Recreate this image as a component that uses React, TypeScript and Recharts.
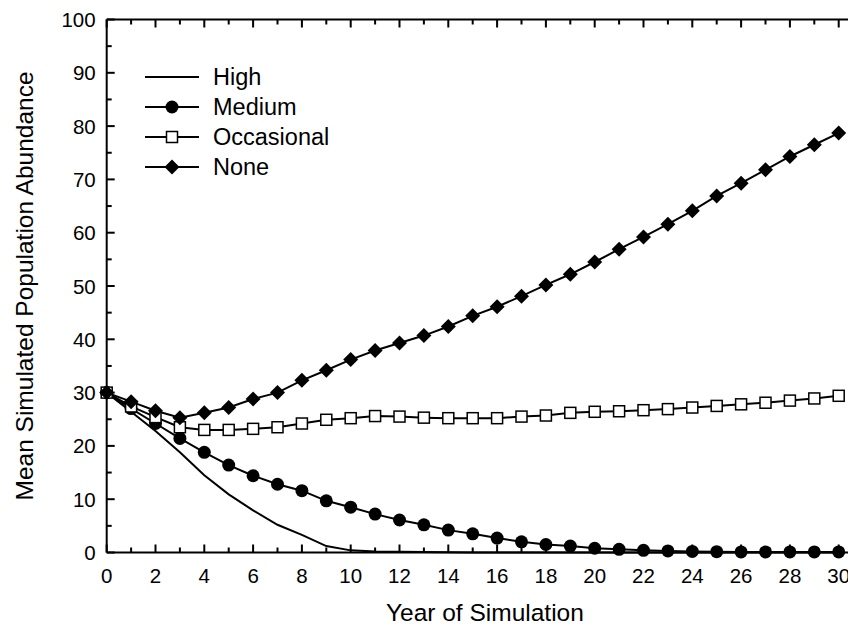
import React from 'react';
import { LineChart, Line, XAxis, YAxis, Legend } from 'recharts';

const years = [0, 1, 2, 3, 4, 5, 6, 7, 8, 9, 10, 11, 12, 13, 14, 15, 16, 17, 18, 19, 20, 21, 22, 23, 24, 25, 26, 27, 28, 29, 30];
const highValues = [30, 26.4, 22.8, 18.8, 14.5, 10.9, 7.9, 5.2, 3.3, 1.2, 0.4, 0.2, 0.12, 0.08, 0.04, 0.02, 0, 0, 0, 0, 0, 0, 0, 0, 0, 0, 0, 0, 0, 0, 0];
const mediumValues = [30, 27.0, 24.2, 21.4, 18.8, 16.4, 14.4, 12.8, 11.6, 9.7, 8.5, 7.2, 6.1, 5.2, 4.2, 3.5, 2.7, 2.0, 1.5, 1.2, 0.8, 0.6, 0.4, 0.3, 0.2, 0.15, 0.1, 0.1, 0.1, 0.1, 0.1];
const occasionalValues = [30, 27.4, 25.4, 23.5, 23.0, 23.0, 23.2, 23.5, 24.2, 24.9, 25.2, 25.6, 25.5, 25.3, 25.2, 25.2, 25.2, 25.5, 25.7, 26.2, 26.4, 26.5, 26.7, 26.9, 27.2, 27.5, 27.8, 28.1, 28.5, 28.9, 29.4];
const noneValues = [30, 28.3, 26.6, 25.3, 26.2, 27.2, 28.8, 30.0, 32.3, 34.2, 36.2, 37.9, 39.3, 40.7, 42.4, 44.4, 46.1, 48.1, 50.2, 52.2, 54.5, 56.9, 59.2, 61.6, 64.1, 66.9, 69.3, 71.8, 74.3, 76.5, 78.7];

const xTicks = [0, 1, 2, 3, 4, 5, 6, 7, 8, 9, 10, 11, 12, 13, 14, 15, 16, 17, 18, 19, 20, 21, 22, 23, 24, 25, 26, 27, 28, 29, 30, 31];
const xLabelTicks = [0, 2, 4, 6, 8, 10, 12, 14, 16, 18, 20, 22, 24, 26, 28, 30];
const yTicks = [0, 5, 10, 15, 20, 25, 30, 35, 40, 45, 50, 55, 60, 65, 70, 75, 80, 85, 90, 95, 100];
const yLabelTicks = [0, 10, 20, 30, 40, 50, 60, 70, 80, 90, 100];

const seriesNames = ['High', 'Medium', 'Occasional', 'None'];

const data = years.map((yr, i) => ({
  year: yr,
  high: highValues[i],
  medium: mediumValues[i],
  occasional: occasionalValues[i],
  none: noneValues[i],
}));

const FONT = '"Liberation Sans", Arial, Helvetica, sans-serif';

const BottomTick = (p: any) => {
  const { x, y, payload } = p;
  const v = payload.value;
  const major = xLabelTicks.includes(v);
  return (
    <g>
      <line x1={x} x2={x} y1={y} y2={y - (major ? 8 : 5)} stroke="#000" strokeWidth={2} />
      {major && (
        <text x={x} y={y + 30} textAnchor="middle" fontSize={20.5} fontFamily={FONT} fill="#000">
          {v}
        </text>
      )}
    </g>
  );
};

const TopTick = (p: any) => {
  const { x, y, payload } = p;
  const major = xLabelTicks.includes(payload.value);
  return <line x1={x} x2={x} y1={y} y2={y + (major ? 8 : 5)} stroke="#000" strokeWidth={2} />;
};

const LeftTick = (p: any) => {
  const { x, y, payload } = p;
  const v = payload.value;
  const major = yLabelTicks.includes(v);
  return (
    <g>
      <line x1={x} x2={x + (major ? 8 : 5)} y1={y} y2={y} stroke="#000" strokeWidth={2} />
      {major && (
        <text x={x - 11} y={y} textAnchor="end" dominantBaseline="central" fontSize={20.5} fontFamily={FONT} fill="#000">
          {v}
        </text>
      )}
    </g>
  );
};

const RightTick = (p: any) => {
  const { x, y, payload } = p;
  const major = yLabelTicks.includes(payload.value);
  return <line x1={x} x2={x - (major ? 8 : 5)} y1={y} y2={y} stroke="#000" strokeWidth={2} />;
};

const CircleDot = (p: any) => {
  if (p.cx == null || p.cy == null) return <g key={p.index} />;
  return <circle key={p.index} cx={p.cx} cy={p.cy} r={6.5} fill="#000" />;
};

const SquareDot = (p: any) => {
  if (p.cx == null || p.cy == null) return <g key={p.index} />;
  return <rect key={p.index} x={p.cx - 5.5} y={p.cy - 5.5} width={11} height={11} fill="#fff" stroke="#000" strokeWidth={1.5} />;
};

const DiamondDot = (p: any) => {
  if (p.cx == null || p.cy == null) return <g key={p.index} />;
  const r = 7.5;
  return (
    <polygon
      key={p.index}
      points={`${p.cx},${p.cy - r} ${p.cx + r},${p.cy} ${p.cx},${p.cy + r} ${p.cx - r},${p.cy}`}
      fill="#000"
    />
  );
};

const legendMarker = (name: string, cx: number, cy: number) => {
  if (name === 'Medium') return <circle cx={cx} cy={cy} r={6.5} fill="#000" />;
  if (name === 'Occasional')
    return <rect x={cx - 5.5} y={cy - 5.5} width={11} height={11} fill="#fff" stroke="#000" strokeWidth={1.5} />;
  if (name === 'None') {
    const r = 7.5;
    return <polygon points={`${cx},${cy - r} ${cx + r},${cy} ${cx},${cy + r} ${cx - r},${cy}`} fill="#000" />;
  }
  return null;
};

const renderLegend = () => (
  <svg width={260} height={130} style={{ display: 'block' }}>
    {seriesNames.map((name, i) => {
      const cy = 19 + 30 * i;
      return (
        <g key={name}>
          <line x1={0} x2={54} y1={cy} y2={cy} stroke="#000" strokeWidth={2} />
          {legendMarker(name, 27, cy)}
          <text x={68} y={cy} dominantBaseline="central" fontSize={23.5} fontFamily={FONT} fill="#000">
            {name}
          </text>
        </g>
      );
    })}
  </svg>
);

const XTitle = (p: any) => {
  const vb = p.viewBox || {};
  return (
    <text x={vb.x + vb.width / 2} y={613} textAnchor="middle" fontSize={24.5} fontFamily={FONT} fill="#000">
      Year of Simulation
    </text>
  );
};

const YTitle = (p: any) => {
  const vb = p.viewBox || {};
  const cy = vb.y + vb.height / 2;
  return (
    <text
      x={16}
      y={cy}
      transform={`rotate(-90, 16, ${cy})`}
      textAnchor="middle"
      dominantBaseline="central"
      fontSize={24.5}
      fontFamily={FONT}
      fill="#000"
    >
      Mean Simulated Population Abundance
    </text>
  );
};

export default function App() {
  return (
    <div style={{ width: 848, height: 629, overflow: 'hidden', position: 'relative', background: '#fff' }}>
      <LineChart width={870} height={629} data={data} margin={{ top: 0, right: 0, bottom: 0, left: 0 }}>
        <XAxis
          xAxisId="bottom"
          dataKey="year"
          type="number"
          domain={[0, 31]}
          ticks={xTicks}
          interval={0}
          tickSize={0}
          tickMargin={0}
          tickLine={false}
          axisLine={{ stroke: '#000', strokeWidth: 2 }}
          tick={BottomTick}
          height={84.5}
          label={<XTitle />}
        />
        <XAxis
          xAxisId="top"
          orientation="top"
          dataKey="year"
          type="number"
          domain={[0, 31]}
          ticks={xTicks}
          interval={0}
          tickSize={0}
          tickMargin={0}
          tickLine={false}
          axisLine={{ stroke: '#000', strokeWidth: 2 }}
          tick={TopTick}
          height={11.5}
        />
        <YAxis
          yAxisId="left"
          type="number"
          domain={[0, 100]}
          ticks={yTicks}
          interval={0}
          tickSize={0}
          tickMargin={0}
          tickLine={false}
          axisLine={{ stroke: '#000', strokeWidth: 2 }}
          tick={LeftTick}
          width={98.7}
          label={<YTitle />}
        />
        <YAxis
          yAxisId="right"
          orientation="right"
          type="number"
          domain={[0, 100]}
          ticks={yTicks}
          interval={0}
          tickSize={0}
          tickMargin={0}
          tickLine={false}
          axisLine={{ stroke: '#000', strokeWidth: 2 }}
          tick={RightTick}
          width={14.9}
        />
        <Legend
          layout="vertical"
          align="center"
          verticalAlign="middle"
          content={renderLegend}
          wrapperStyle={{ position: 'absolute', left: 137, top: 50, width: 260, height: 130 }}
        />
        <Line xAxisId="bottom" yAxisId="left" dataKey="high" name="High" type="linear" stroke="#000" strokeWidth={2} dot={false} activeDot={false} isAnimationActive={false} />
        <Line xAxisId="bottom" yAxisId="left" dataKey="medium" name="Medium" type="linear" stroke="#000" strokeWidth={2} dot={CircleDot} activeDot={false} isAnimationActive={false} />
        <Line xAxisId="bottom" yAxisId="left" dataKey="occasional" name="Occasional" type="linear" stroke="#000" strokeWidth={2} dot={SquareDot} activeDot={false} isAnimationActive={false} />
        <Line xAxisId="bottom" yAxisId="left" dataKey="none" name="None" type="linear" stroke="#000" strokeWidth={2} dot={DiamondDot} activeDot={false} isAnimationActive={false} />
      </LineChart>
    </div>
  );
}
